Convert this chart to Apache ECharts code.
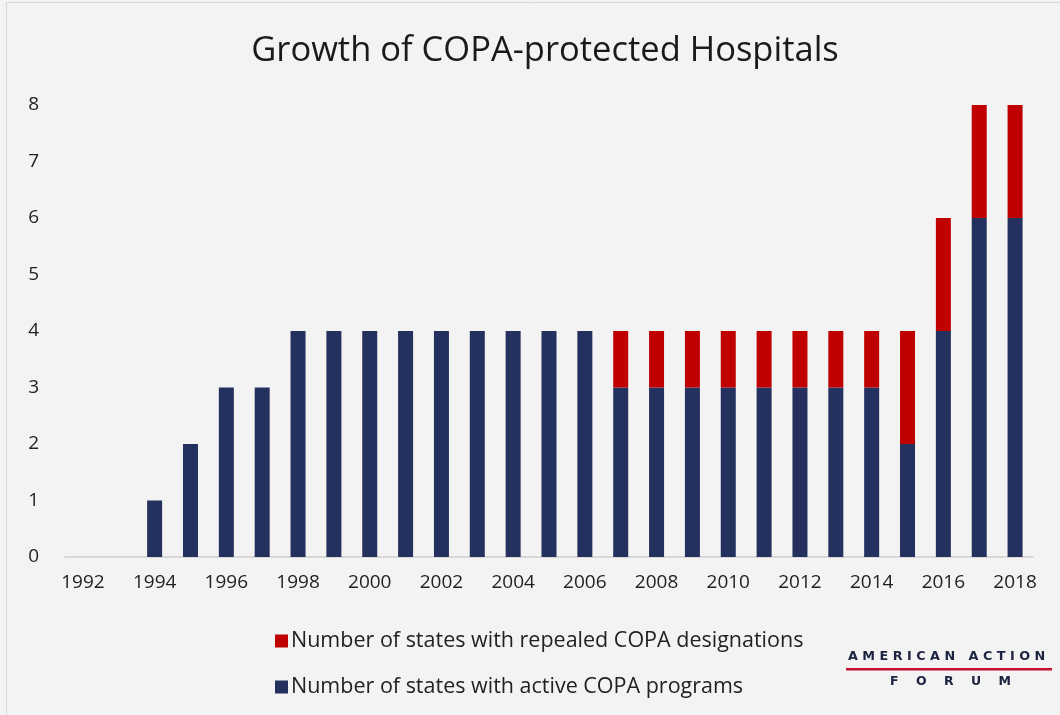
<!DOCTYPE html>
<html><head><meta charset="utf-8">
<script src="https://cdn.jsdelivr.net/npm/echarts@6/dist/echarts.min.js"></script>
<style>html,body{margin:0;padding:0;background:#f3f3f3}#c{width:1060px;height:715px}</style>
</head><body><div id="c"></div>
<script>
const years = ['1992','1993','1994','1995','1996','1997','1998','1999','2000','2001','2002','2003','2004','2005','2006','2007','2008','2009','2010','2011','2012','2013','2014','2015','2016','2017','2018'];
const active = [0,0,1,2,3,3,4,4,4,4,4,4,4,4,4,3,3,3,3,3,3,3,3,2,4,6,6];
const repealed = [0,0,0,0,0,0,0,0,0,0,0,0,0,0,0,1,1,1,1,1,1,1,1,2,2,2,2];
const yTicks = [0,1,2,3,4,5,6,7,8];
const seriesNames = ['Number of states with active COPA programs','Number of states with repealed COPA designations'];

const font = '"Open Sans", Lato, sans-serif';
const chart = echarts.init(document.getElementById('c'));
chart.setOption({
  backgroundColor: '#f3f3f3',
  animation: false,
  title: {text: 'Growth of COPA-protected Hospitals', left: 540, textAlign: 'center', top: 29,
    textStyle: {fontFamily: font, fontSize: 34.5, fontWeight: 'normal', color: '#1a1a1a'}},
  grid: {left: 65, right: 27, top: 105, bottom: 158},
  xAxis: {type: 'category', data: years,
    axisLine: {lineStyle: {color: '#cfcfcf', width: 1.5}}, axisTick: {show: false},
    axisLabel: {interval: 1, color: '#222', fontFamily: font, fontSize: 19, margin: 16}},
  yAxis: {type: 'value', min: yTicks[0], max: yTicks[yTicks.length-1], interval: 1,
    splitLine: {show: false}, axisLine: {show: false}, axisTick: {show: false},
    axisLabel: {color: '#222', fontFamily: font, fontSize: 19, margin: 26,
      formatter: v => yTicks.includes(v) ? String(v) : ''}},
  legend: {orient: 'vertical', left: 270, top: 625, itemWidth: 13, itemHeight: 13, itemGap: 24,
    icon: 'rect', data: [seriesNames[1], seriesNames[0]],
    textStyle: {fontFamily: font, fontSize: 21.5, color: '#222', padding: [0,0,0,-2]}},
  series: [
    {name: seriesNames[0], type: 'bar', stack: 's', data: active, barWidth: 15, itemStyle: {color: '#24305e'}},
    {name: seriesNames[1], type: 'bar', stack: 's', data: repealed, barWidth: 15, itemStyle: {color: '#c00000'}}
  ],
  graphic: [
    {type: 'rect', left: 4, top: 0, shape: {width: 1054, height: 713}, style: {fill: 'none', stroke: '#d8d8d8', lineWidth: 1}, silent: true},
    {type: 'text', left: 848, top: 650, style: {text: 'A M E R I C A N   A C T I O N', fontFamily: 'DejaVu Sans', fontWeight: 'bold', fontSize: 12.8, fill: '#1c2340'}},
    {type: 'rect', left: 846, top: 668, shape: {width: 206, height: 2.5}, style: {fill: '#c8102e'}},
    {type: 'text', left: 890, top: 675, style: {text: 'F    O    R    U    M', fontFamily: 'DejaVu Sans', fontWeight: 'bold', fontSize: 12.5, fill: '#1c2340'}}
  ]
});
</script></body></html>
